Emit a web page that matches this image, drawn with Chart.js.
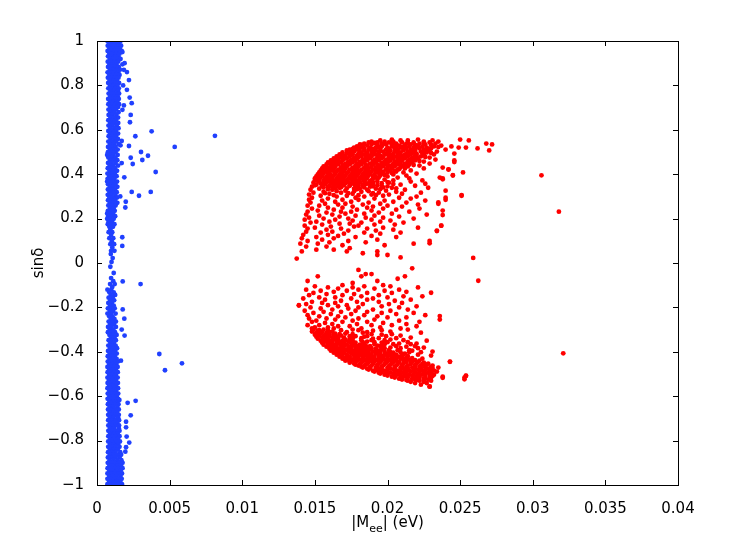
<!DOCTYPE html>
<html>
<head>
<meta charset="utf-8">
<script src="https://cdn.jsdelivr.net/npm/chart.js@4.4.0/dist/chart.umd.min.js"></script>
<style>
    html, body { margin: 0; padding: 0; background: #fff; }
    #wrap { width: 747px; height: 545px; }
</style>
</head>
<body>
<div id="wrap"><canvas id="grafico" width="747" height="545"></canvas></div>
<script>
// Ticks dos eixos
const xTicks = [0, 0.005, 0.01, 0.015, 0.02, 0.025, 0.03, 0.035, 0.04];
const xTickLabels = ['0', '0.005', '0.01', '0.015', '0.02', '0.025', '0.03', '0.035', '0.04'];
const yTicks = [-1, -0.8, -0.6, -0.4, -0.2, 0, 0.2, 0.4, 0.6, 0.8, 1];
const yTickLabels = ['\u22121', '\u22120.8', '\u22120.6', '\u22120.4', '\u22120.2', '0', '0.2', '0.4', '0.6', '0.8', '1'];

// Dados. |Mee| escrito em meV (dividido por 1000 abaixo).
// Cada linha: [sinδ, |Mee| ...]
const blueColumnRows = [
    [1.000, 0.72, 0.95, 1.18, 1.40, 1.62], [0.990, 0.84, 1.07, 1.30, 1.52],
    [0.979, 0.74, 0.98, 1.22, 1.45, 1.66], [0.967, 0.86, 1.10, 1.33, 1.56],
    [0.955, 0.73, 0.96, 1.20, 1.43, 1.70], [0.943, 0.85, 1.08, 1.31, 1.55],
    [0.931, 0.76, 0.99, 1.24, 1.47], [0.919, 0.88, 1.12, 1.36, 1.62],
    [0.907, 0.74, 0.97, 1.21, 1.45], [0.895, 0.86, 1.09, 1.33, 1.75],
    [0.883, 0.76, 1.00, 1.25, 1.50], [0.871, 0.88, 1.13, 1.38, 1.58],
    [0.859, 0.73, 0.97, 1.22, 1.46], [0.847, 0.85, 1.10, 1.34, 1.55],
    [0.835, 0.75, 1.00, 1.26, 1.48], [0.823, 0.88, 1.13, 1.37],
    [0.811, 0.77, 1.02, 1.25, 1.52], [0.799, 0.90, 1.15, 1.40],
    [0.787, 0.78, 1.03, 1.28, 1.50], [0.775, 0.92, 1.16, 1.45],
    [0.763, 0.80, 1.05, 1.30, 1.52], [0.751, 0.92, 1.18, 1.42],
    [0.739, 0.77, 1.02, 1.27, 1.50], [0.727, 0.90, 1.14, 1.40],
    [0.715, 0.78, 1.03, 1.29, 1.52], [0.703, 0.91, 1.17, 1.45],
    [0.691, 0.79, 1.04, 1.30], [0.679, 0.92, 1.18, 1.48],
    [0.667, 0.80, 1.05, 1.33], [0.655, 0.93, 1.20, 1.45],
    [0.643, 0.78, 1.04, 1.30], [0.631, 0.91, 1.17, 1.46],
    [0.619, 0.79, 1.05, 1.35], [0.607, 0.92, 1.20, 1.48],
    [0.595, 0.78, 1.03, 1.30], [0.583, 0.90, 1.16, 1.45],
    [0.571, 0.80, 1.06, 1.30], [0.559, 0.93, 1.19, 1.44],
    [0.547, 0.78, 1.04, 1.32], [0.535, 0.90, 1.17, 1.50],
    [0.523, 0.76, 1.02, 1.28], [0.511, 0.89, 1.14, 1.42],
    [0.499, 0.75, 1.00, 1.27], [0.487, 0.70, 0.88, 1.13, 1.42],
    [0.475, 0.78, 1.02, 1.26], [0.463, 0.90, 1.15, 1.40],
    [0.451, 0.76, 1.01, 1.28], [0.439, 0.88, 1.12, 1.45],
    [0.427, 0.74, 0.99, 1.24], [0.415, 0.86, 1.10, 1.38],
    [0.403, 0.72, 0.97, 1.22], [0.391, 0.85, 1.09, 1.35],
    [0.379, 0.73, 0.96, 1.20], [0.367, 0.70, 0.86, 1.10, 1.38],
    [0.355, 0.76, 0.99, 1.26], [0.343, 0.88, 1.12, 1.40],
    [0.331, 0.75, 0.98, 1.23], [0.319, 0.87, 1.11, 1.36],
    [0.307, 0.74, 0.97, 1.26], [0.295, 0.86, 1.10, 1.38],
    [0.283, 0.76, 1.00, 1.24], [0.271, 0.88, 1.12, 1.40],
    [0.259, 0.78, 1.02, 1.28], [0.247, 0.90, 1.14],
    [0.235, 0.75, 0.99, 1.22], [0.223, 0.70, 0.87, 1.10],
    [0.211, 0.77, 1.01, 1.25], [0.199, 0.70, 0.90, 1.15],
    [0.187, 0.80, 1.03], [0.175, 0.74, 0.95, 1.20],
    [0.163, 0.85, 1.10], [0.151, 0.92],
    [0.139, 0.80, 1.05], [0.127, 0.97],
    [0.112, 0.85, 1.12], [0.098, 1.02],
    [0.085, 0.92, 1.18], [0.070, 1.05],
    [0.055, 0.97, 1.20], [0.040, 0.95],
    [0.022, 1.08], [0.005, 1.00],
    [-0.017, 0.92], [-0.045, 1.15],
    [-0.068, 0.97], [-0.082, 1.12],
    [-0.095, 0.90, 1.22], [-0.108, 1.05],
    [-0.120, 0.72, 0.98], [-0.132, 0.85, 1.15],
    [-0.144, 0.95, 1.25], [-0.156, 0.80, 1.08],
    [-0.168, 0.92, 1.18], [-0.180, 0.78, 1.02],
    [-0.192, 0.90, 1.15], [-0.204, 0.75, 0.98, 1.22],
    [-0.216, 0.88, 1.10], [-0.228, 0.72, 0.96, 1.28],
    [-0.240, 0.84, 1.07], [-0.252, 0.95, 1.20],
    [-0.264, 0.80, 1.03, 1.30], [-0.276, 0.91, 1.16],
    [-0.288, 0.76, 1.00, 1.30], [-0.300, 0.88, 1.12],
    [-0.312, 0.75, 0.98, 1.24], [-0.324, 0.86, 1.10, 1.35],
    [-0.336, 0.97, 1.20], [-0.348, 0.80, 1.04, 1.30],
    [-0.360, 0.92, 1.16], [-0.372, 0.78, 1.02, 1.28],
    [-0.384, 0.90, 1.14, 1.38], [-0.396, 0.76, 1.00, 1.25],
    [-0.408, 0.88, 1.12, 1.36], [-0.420, 0.74, 0.98, 1.22],
    [-0.432, 0.86, 1.10, 1.35], [-0.444, 0.74, 0.97, 1.21, 1.44],
    [-0.456, 0.85, 1.09, 1.32], [-0.468, 0.72, 0.96, 1.20, 1.42],
    [-0.480, 0.84, 1.08, 1.30], [-0.492, 0.73, 0.95, 1.19, 1.43],
    [-0.504, 0.84, 1.07, 1.30], [-0.516, 0.72, 0.95, 1.18, 1.42],
    [-0.528, 0.83, 1.06, 1.29], [-0.540, 0.73, 0.95, 1.18, 1.44],
    [-0.552, 0.84, 1.07, 1.31], [-0.564, 0.72, 0.96, 1.20, 1.45],
    [-0.576, 0.85, 1.08, 1.32], [-0.588, 0.74, 0.97, 1.21, 1.46],
    [-0.600, 0.86, 1.10, 1.35], [-0.612, 0.73, 0.98, 1.22, 1.45],
    [-0.624, 0.86, 1.11, 1.36], [-0.636, 0.75, 0.99, 1.24, 1.48],
    [-0.648, 0.87, 1.12, 1.40], [-0.660, 0.76, 1.00, 1.25, 1.50],
    [-0.672, 0.88, 1.13, 1.38], [-0.684, 0.77, 1.01, 1.26, 1.50],
    [-0.696, 0.89, 1.14, 1.45], [-0.708, 0.77, 1.02, 1.27, 1.52],
    [-0.720, 0.90, 1.15, 1.40], [-0.732, 0.78, 1.03, 1.29, 1.52],
    [-0.744, 0.90, 1.16, 1.50], [-0.756, 0.78, 1.03, 1.29, 1.55],
    [-0.768, 0.91, 1.17, 1.42], [-0.780, 0.78, 1.04, 1.30, 1.55],
    [-0.792, 0.90, 1.16, 1.45], [-0.804, 0.77, 1.03, 1.29, 1.58],
    [-0.816, 0.90, 1.16, 1.45], [-0.828, 0.77, 1.02, 1.28, 1.55],
    [-0.840, 0.89, 1.15, 1.42], [-0.852, 0.76, 1.01, 1.27, 1.60],
    [-0.864, 0.88, 1.14, 1.40, 1.66], [-0.876, 0.75, 1.00, 1.26, 1.55],
    [-0.888, 0.87, 1.13, 1.40, 1.68], [-0.900, 0.74, 0.99, 1.25, 1.52, 1.76],
    [-0.912, 0.86, 1.12, 1.38, 1.65], [-0.924, 0.73, 0.98, 1.24, 1.50, 1.76],
    [-0.936, 0.85, 1.11, 1.37, 1.63], [-0.948, 0.72, 0.97, 1.23, 1.49, 1.72],
    [-0.960, 0.84, 1.10, 1.36, 1.62], [-0.972, 0.72, 0.97, 1.22, 1.48, 1.70],
    [-0.984, 0.84, 1.10, 1.35, 1.60], [-0.996, 0.72, 0.96, 1.21, 1.47, 1.72]
];

// Pontos azuis dispersos: [|Mee| meV, sinδ]
const blueScatter = [
    [2.2, 0.824], [2.06, 0.86], [2.06, 0.78], [2.25, 0.745], [2.39, 0.72], [2.32, 0.667], [2.27, 0.634],
    [1.9, 0.9], [1.85, 0.87], [1.75, 0.95], [1.8, 0.8], [1.75, 0.69], [1.85, 0.71], [1.7, 0.55], [1.62, 0.53],
    [2.64, 0.571], [3.76, 0.593], [8.12, 0.573], [5.35, 0.523], [3.03, 0.5], [3.51, 0.483], [3.12, 0.464],
    [2.46, 0.446], [4.04, 0.41], [1.88, 0.386], [2.39, 0.32], [3.7, 0.32], [2.89, 0.303], [2.32, 0.474],
    [2.2, 0.527], [1.98, 0.276], [1.95, 0.25], [1.74, 0.116], [1.74, 0.077], [1.7, 0.45], [1.6, 0.3],
    [3.0, -0.095], [1.77, -0.083], [4.29, -0.41], [4.68, -0.483], [5.85, -0.452], [1.77, -0.209],
    [1.88, -0.251], [1.9, -0.327], [2.66, -0.621], [2.11, -0.63], [2.32, -0.686], [2.0, -0.715],
    [2.0, -0.74], [2.04, -0.782], [2.22, -0.809], [2.0, -0.83], [1.95, -0.85], [1.54, -0.617],
    [1.7, -0.3], [1.65, -0.44]
];

// Parte densa do arco vermelho de cima
const redUpperDense = [
    [0.556, 20.3, 22.1, 25.0],
    [0.552, 19.5, 20.9, 21.4, 23.1, 25.6],
    [0.547, 18.9, 19.8, 20.4, 22.5, 23.5],
    [0.543, 18.7, 19.3, 20.1, 21.0, 21.8, 22.9],
    [0.538, 18.4, 19.6, 20.6, 21.3, 22.2, 23.3, 26.8],
    [0.534, 18.1, 18.9, 19.9, 20.3, 21.6, 22.6, 27.2],
    [0.529, 18.6, 19.3, 20.8, 21.2, 22.0, 23.7],
    [0.525, 17.9, 18.3, 19.6, 20.3, 21.5, 22.4, 23.2, 24.4],
    [0.520, 17.7, 18.8, 19.2, 20.0, 20.9, 21.8, 22.7, 24.9, 25.4],
    [0.516, 18.1, 19.5, 20.5, 21.3, 22.2, 23.0, 26.2],
    [0.511, 17.4, 17.9, 18.7, 19.9, 20.7, 21.6, 22.5, 24.0],
    [0.507, 17.2, 18.4, 19.2, 20.2, 21.1, 21.9, 22.9, 27.0],
    [0.502, 17.7, 18.1, 19.0, 19.7, 20.5, 21.4, 22.3, 23.4],
    [0.498, 16.9, 17.5, 18.6, 19.4, 20.1, 20.9, 21.8, 22.7],
    [0.493, 17.2, 18.0, 18.9, 19.8, 20.4, 21.3, 22.0, 24.6],
    [0.489, 16.7, 17.6, 18.4, 19.1, 19.9, 20.8, 21.6, 22.5, 23.2],
    [0.484, 17.0, 17.9, 18.7, 19.5, 20.3, 21.0, 21.9],
    [0.480, 16.5, 17.4, 18.2, 18.9, 19.7, 20.6, 21.4, 22.3],
    [0.475, 16.8, 17.7, 18.5, 19.3, 20.1, 20.8, 21.7, 22.9],
    [0.471, 16.3, 17.2, 17.9, 18.8, 19.6, 20.4, 21.2, 22.1],
    [0.466, 16.6, 17.5, 18.3, 19.1, 19.9, 20.7, 21.5, 23.3],
    [0.462, 16.1, 16.9, 17.8, 18.6, 19.4, 20.2, 21.0, 21.9, 24.6],
    [0.457, 16.4, 17.3, 18.1, 19.0, 19.8, 20.5, 21.4, 22.5],
    [0.453, 15.9, 16.8, 17.6, 18.4, 19.2, 20.0, 20.9, 21.7],
    [0.448, 16.2, 17.1, 17.9, 18.8, 19.6, 20.4, 21.2, 22.9],
    [0.444, 15.8, 16.6, 17.4, 18.2, 19.0, 19.8, 20.7, 21.5],
    [0.439, 16.1, 16.9, 17.8, 18.6, 19.4, 20.2, 21.0, 22.2],
    [0.435, 15.6, 16.4, 17.2, 18.0, 18.9, 19.7, 20.5, 21.4],
    [0.430, 16.0, 16.8, 17.6, 18.4, 19.2, 20.0, 20.9, 23.8],
    [0.426, 15.5, 16.3, 17.1, 17.9, 18.7, 19.5, 20.3, 21.2, 22.5],
    [0.421, 15.8, 16.6, 17.4, 18.2, 19.0, 19.9, 20.7, 24.2],
    [0.417, 15.4, 16.1, 16.9, 17.7, 18.5, 19.3, 20.2, 21.6],
    [0.412, 15.7, 16.5, 17.3, 18.1, 18.9, 19.7, 20.6],
    [0.408, 15.3, 16.0, 16.8, 17.6, 18.4, 19.2, 20.0, 21.1, 25.2],
    [0.403, 15.6, 16.4, 17.2, 18.0, 18.8, 19.6, 22.0],
    [0.399, 15.2, 16.0, 16.7, 17.5, 18.3, 19.1, 20.4],
    [0.394, 15.5, 16.3, 17.1, 17.9, 18.7, 19.5, 21.3, 24.5],
    [0.390, 15.1, 15.8, 16.6, 17.4, 18.2, 19.0, 20.0],
    [0.385, 15.4, 16.2, 17.0, 17.8, 18.6, 19.4, 20.7, 23.6],
    [0.381, 15.0, 15.7, 16.5, 17.3, 18.1, 19.0, 21.5, 23.8],
    [0.376, 15.3, 16.1, 16.9, 17.7, 18.5, 19.8],
    [0.372, 15.0, 15.6, 16.4, 17.2, 18.0, 18.9, 20.4, 22.4],
    [0.367, 15.3, 16.0, 16.8, 17.6, 18.4, 19.3, 21.6]
];

// Pontos entre as linhas da parte densa de cima
const redUpperFill = [
    [0.5405, 19.1, 20.3, 21.4, 22.5],
    [0.5315, 18.2, 19.6, 20.6, 21.9, 23.0],
    [0.5225, 18.1, 19.4, 20.6, 21.0, 22.1, 23.5],
    [0.5135, 17.6, 18.4, 19.0, 20.1, 21.1, 21.9, 22.8],
    [0.5045, 17.5, 18.9, 19.5, 20.7, 21.6, 22.6],
    [0.4955, 17.2, 18.2, 19.1, 20.0, 20.7, 21.5, 22.4, 23.0],
    [0.4865, 16.8, 17.4, 18.5, 19.3, 20.1, 21.2, 22.0],
    [0.4775, 16.6, 17.1, 18.0, 18.8, 19.5, 20.4, 21.0, 22.0, 22.6],
    [0.4685, 16.4, 17.0, 17.7, 18.5, 19.4, 20.2, 20.9, 21.8],
    [0.4595, 16.2, 16.6, 17.5, 18.3, 19.2, 20.1, 20.8, 21.6, 22.2],
    [0.4505, 16.0, 16.5, 17.3, 18.1, 19.0, 19.6, 20.6, 21.4],
    [0.4415, 16.3, 17.1, 17.9, 18.5, 19.3, 20.0, 20.9, 21.8],
    [0.4325, 15.8, 16.2, 17.0, 17.8, 18.6, 19.5, 20.3, 21.2],
    [0.4235, 15.7, 16.0, 16.8, 17.6, 18.5, 19.2, 20.0, 20.8],
    [0.4145, 15.6, 16.3, 17.0, 17.9, 18.7, 19.5, 20.5],
    [0.4055, 15.5, 15.9, 16.9, 17.8, 18.6, 19.4, 20.3],
    [0.3965, 15.3, 16.1, 16.9, 17.7, 18.5, 19.8],
    [0.3875, 15.2, 16.0, 16.8, 17.6, 18.4, 19.2],
    [0.3785, 15.2, 15.9, 16.7, 17.5, 18.3, 19.3],
    [0.3695, 15.2, 16.2, 17.0, 17.9, 18.8],
    [0.358, 15.4, 16.4, 17.5, 18.6],
    [0.350, 15.0, 16.0, 17.0, 18.0],
    [0.341, 15.6, 16.8, 17.8]
];

// Transição entre a parte densa e a espalhada (arco de cima)
const redUpperMid = [
    [0.3645, 15.8, 16.6, 17.3, 18.1, 19.0, 20.0],
    [0.3595, 16.2, 17.1, 18.0, 18.8, 19.6],
    [0.3555, 15.6, 16.6, 17.7, 18.5, 20.4],
    [0.3505, 16.8, 17.4, 18.3, 19.3],
    [0.3455, 15.5, 16.6, 17.8, 19.0, 20.0],
    [0.3405, 16.2, 18.4, 19.7],
    [0.3365, 16.4, 17.2, 18.1, 20.6],
    [0.3325, 15.9, 17.9, 19.5],
    [0.3235, 16.5, 17.7, 18.7],
    [0.3145, 15.7, 17.3, 19.0],
    [0.3055, 16.3, 18.0, 19.2]
];

// Parte espalhada do arco de cima
const redUpperSparse = [
    [0.362, 14.9, 17.9, 20.1], [0.357, 15.7, 16.9, 19.0, 22.6], [0.353, 15.1, 18.3, 20.9],
    [0.348, 16.3, 17.4, 19.6, 21.9], [0.344, 14.8, 15.9, 18.8], [0.339, 16.7, 20.3, 22.8],
    [0.335, 15.3, 17.7, 19.2], [0.330, 14.7, 16.2, 18.6, 21.2], [0.326, 17.1, 19.9, 24.0],
    [0.321, 15.6, 18.2, 20.6], [0.317, 14.9, 16.8, 19.4, 22.3], [0.312, 16.0, 17.6, 21.0],
    [0.308, 14.6, 18.9, 20.1], [0.303, 15.4, 17.2, 19.7, 25.1], [0.299, 16.5, 18.4, 22.0],
    [0.294, 14.8, 17.8, 20.8], [0.290, 15.9, 19.1, 21.6], [0.285, 14.6, 16.9, 18.0, 24.0],
    [0.281, 15.5, 19.8, 22.6], [0.276, 16.4, 17.5, 20.4], [0.272, 14.7, 18.7, 21.3],
    [0.267, 15.7, 17.1, 19.5, 23.5], [0.263, 16.6, 18.3, 22.1], [0.258, 14.5, 15.3, 20.0],
    [0.254, 17.6, 19.0, 21.0], [0.249, 15.9, 16.9, 18.6], [0.245, 14.8, 19.7, 22.2],
    [0.240, 16.3, 17.9, 20.6], [0.236, 15.2, 18.9, 23.8], [0.231, 14.5, 16.8, 17.5, 21.5],
    [0.227, 15.8, 19.4], [0.222, 17.1, 18.4, 20.3], [0.218, 14.4, 16.2, 22.7],
    [0.213, 15.3, 17.8, 19.1], [0.209, 16.7, 20.8], [0.204, 14.6, 18.5, 19.7],
    [0.200, 15.6, 17.3, 21.8], [0.195, 14.3, 16.4, 18.9], [0.191, 17.6, 20.2],
    [0.186, 15.1, 16.0, 19.5], [0.182, 14.7, 18.2, 21.1], [0.177, 16.7, 17.4],
    [0.173, 15.5, 19.1, 20.5], [0.168, 14.3, 18.0, 23.7], [0.164, 16.1, 17.7],
    [0.159, 15.0, 19.7, 22.1], [0.155, 14.5, 16.8, 18.6], [0.150, 15.8, 20.4],
    [0.146, 17.3, 19.2, 23.4], [0.141, 14.4, 16.2], [0.137, 15.4, 18.4, 20.9],
    [0.132, 17.0, 19.5], [0.127, 14.2, 15.9], [0.122, 16.6, 18.9],
    [0.117, 15.1, 17.8, 20.6], [0.111, 14.1, 16.3], [0.105, 15.5, 19.3],
    [0.099, 14.5, 17.3, 22.9], [0.093, 16.0, 18.5], [0.087, 14.0, 15.2, 21.8],
    [0.080, 16.9, 19.8], [0.074, 14.4, 15.8], [0.067, 17.4],
    [0.060, 15.1, 16.3], [0.052, 14.1, 17.2, 19.3], [0.044, 18.3],
    [0.036, 19.3, 20.0], [0.025, 20.9]
];

// Parte espalhada do arco de baixo
const redLowerSparse = [
    [-0.024, 21.7], [-0.031, 18.0], [-0.050, 18.5, 18.9], [-0.060, 15.2, 18.2, 21.2],
    [-0.071, 20.7], [-0.081, 14.5, 19.3], [-0.090, 17.6],
    [-0.100, 16.9, 19.7], [-0.105, 15.0, 18.4, 20.2], [-0.110, 15.9, 17.6, 22.1],
    [-0.115, 16.6, 19.1], [-0.120, 14.4, 18.0, 20.8], [-0.125, 15.4, 17.2, 19.8],
    [-0.130, 16.3, 21.3], [-0.135, 14.9, 18.6, 20.3], [-0.140, 15.8, 17.7],
    [-0.145, 14.6, 16.9, 19.4], [-0.150, 18.2, 21.1, 22.4], [-0.155, 15.3, 16.4, 20.0],
    [-0.160, 14.2, 17.5, 19.0], [-0.165, 15.7, 18.6, 21.6], [-0.170, 16.8, 20.5],
    [-0.175, 14.8, 17.9, 19.4], [-0.180, 15.5, 16.4, 21.0], [-0.185, 14.4, 18.3, 20.1],
    [-0.190, 13.9, 15.9, 17.2], [-0.195, 16.6, 19.6, 22.0], [-0.200, 14.7, 18.0, 20.8],
    [-0.205, 15.4, 17.3], [-0.210, 16.2, 19.0, 21.4], [-0.215, 14.3, 17.8, 20.2],
    [-0.220, 15.6, 16.8, 18.6], [-0.225, 14.9, 19.6, 21.8], [-0.230, 16.1, 17.5, 20.6],
    [-0.235, 14.5, 18.4, 22.6], [-0.240, 15.3, 16.6, 19.3], [-0.245, 17.1, 20.0, 21.3],
    [-0.250, 14.6, 15.8, 18.0], [-0.255, 16.4, 19.1, 23.6], [-0.260, 15.1, 17.6, 20.8],
    [-0.265, 14.8, 16.9, 18.6, 22.2], [-0.270, 15.7, 19.7], [-0.275, 16.2, 17.9, 21.3],
    [-0.280, 14.5, 15.3, 18.9, 20.3], [-0.285, 16.6, 17.4, 22.0], [-0.290, 15.0, 15.9, 19.5],
    [-0.295, 14.8, 16.3, 18.2, 20.9]
];

// Transição acima da faixa densa de baixo
const redLowerMid = [
    [-0.3025, 16.8, 18.0, 19.6], [-0.3115, 17.2, 18.6], [-0.3205, 17.6, 18.9, 20.3],
    [-0.3295, 17.8, 18.6, 19.9], [-0.3385, 18.2, 19.4, 20.6], [-0.3475, 18.9, 19.8, 21.1],
    [-0.3565, 19.1, 20.0, 21.4], [-0.3655, 19.8, 20.4, 21.6], [-0.3745, 19.5, 20.6, 21.9],
    [-0.3835, 19.6, 20.9, 22.1], [-0.3925, 20.7, 21.5], [-0.4015, 21.5, 22.3]
];

// Faixa densa do arco de baixo
const redLowerDense = [
    [-0.300, 14.9, 15.6, 17.6, 21.4], [-0.305, 15.2, 15.9, 19.0], [-0.309, 14.8, 15.5, 16.2, 20.2],
    [-0.314, 15.1, 15.8, 18.3, 22.3], [-0.318, 15.4, 16.4, 17.1], [-0.323, 15.0, 15.7, 16.3, 19.6],
    [-0.327, 15.3, 16.0, 16.8, 20.9], [-0.332, 15.1, 15.8, 16.5, 18.4], [-0.336, 15.5, 16.2, 17.0, 21.6],
    [-0.341, 15.2, 15.9, 16.6, 17.4, 19.0], [-0.345, 15.6, 16.3, 17.1, 20.2], [-0.350, 15.4, 16.1, 16.9, 17.6, 22.7],
    [-0.354, 15.7, 16.5, 17.3, 18.6], [-0.359, 15.5, 16.2, 17.0, 17.8, 19.6], [-0.363, 15.9, 16.6, 17.5, 20.8, 22.0],
    [-0.368, 15.6, 16.4, 17.2, 18.1], [-0.372, 16.0, 16.8, 17.6, 18.5, 19.3], [-0.377, 15.8, 16.5, 17.4, 18.3, 21.3],
    [-0.381, 16.1, 16.9, 17.8, 18.6, 20.2, 22.5], [-0.386, 16.0, 16.7, 17.5, 18.4, 19.2], [-0.390, 16.3, 17.1, 17.9, 18.8, 19.6],
    [-0.395, 16.1, 16.9, 17.7, 18.6, 19.4, 21.7], [-0.399, 16.4, 17.3, 18.1, 19.0, 19.8, 23.1], [-0.404, 16.3, 17.0, 17.9, 18.7, 19.5, 20.4],
    [-0.408, 16.6, 17.5, 18.3, 19.2, 20.0, 21.2], [-0.413, 16.5, 17.2, 18.1, 18.9, 19.8, 20.6, 22.1], [-0.417, 16.8, 17.7, 18.5, 19.4, 20.2, 21.0, 23.0],
    [-0.422, 16.7, 17.4, 18.3, 19.1, 20.0, 20.8], [-0.426, 17.0, 17.9, 18.7, 19.6, 20.4, 21.3], [-0.431, 16.9, 17.7, 18.6, 19.4, 20.3, 21.1, 22.4],
    [-0.435, 17.2, 18.1, 18.9, 19.8, 20.6, 21.5], [-0.440, 17.1, 17.9, 18.8, 19.6, 20.5, 21.3, 22.2], [-0.444, 17.4, 18.3, 19.1, 20.0, 20.8, 21.7, 24.3],
    [-0.449, 17.4, 18.2, 19.0, 19.9, 20.7, 21.6, 22.5], [-0.453, 17.7, 18.6, 19.4, 20.3, 21.1, 22.0, 22.8], [-0.458, 17.8, 18.5, 19.3, 20.2, 21.0, 21.9, 22.7],
    [-0.462, 18.0, 18.9, 19.7, 20.6, 21.4, 22.3, 23.1], [-0.467, 18.2, 18.8, 19.6, 20.5, 21.3, 22.2, 23.0], [-0.471, 18.3, 19.2, 20.0, 20.9, 21.7, 22.6, 23.5],
    [-0.476, 18.6, 19.4, 20.2, 21.1, 21.9, 22.8], [-0.480, 18.7, 19.5, 20.4, 21.2, 22.1, 22.9], [-0.485, 19.0, 19.8, 20.7, 21.5, 22.4, 23.2],
    [-0.489, 19.1, 19.9, 20.8, 21.6, 22.5, 23.4], [-0.494, 19.4, 20.2, 21.1, 21.9, 22.8], [-0.498, 19.5, 20.4, 21.2, 22.1, 22.9],
    [-0.503, 19.8, 20.7, 21.5, 22.4, 23.2], [-0.507, 20.0, 20.9, 21.7, 22.6, 25.4], [-0.512, 20.3, 21.1, 22.0, 22.9, 23.8],
    [-0.516, 20.5, 21.4, 22.2, 23.0, 25.3], [-0.521, 20.8, 21.7, 22.5], [-0.525, 21.0, 21.9, 22.8],
    [-0.530, 21.4, 22.2, 23.0], [-0.535, 21.6, 22.5], [-0.541, 21.9, 22.7],
    [-0.548, 22.3], [-0.556, 22.9]
];

// Pontos entre as linhas da faixa densa de baixo
const redLowerFill = [
    [-0.3025, 15.3], [-0.3115, 15.2, 16.0], [-0.3205, 15.3, 16.0, 16.7],
    [-0.3295, 15.6, 16.4, 17.4], [-0.3385, 15.8, 16.5, 17.6], [-0.3475, 15.9, 16.6, 17.4, 18.2],
    [-0.3565, 16.0, 16.8, 17.5, 18.3], [-0.3655, 16.1, 16.9, 17.7, 18.4, 19.1],
    [-0.3745, 16.3, 17.0, 17.9, 18.8, 19.6], [-0.3835, 16.4, 17.3, 18.1, 18.9, 19.8],
    [-0.3925, 16.6, 17.4, 18.3, 19.2, 20.1], [-0.4015, 16.7, 17.6, 18.5, 19.3, 20.2, 20.9],
    [-0.4105, 16.9, 17.8, 18.7, 19.5, 20.4, 21.1], [-0.4195, 17.2, 18.0, 18.9, 19.7, 20.6, 21.4],
    [-0.4285, 17.4, 18.3, 19.1, 20.0, 20.9, 21.7], [-0.4375, 17.6, 18.5, 19.3, 20.2, 21.1, 21.9],
    [-0.4465, 17.8, 18.7, 19.5, 20.4, 21.3, 22.1], [-0.4555, 18.1, 19.0, 19.8, 20.7, 21.6, 22.4],
    [-0.4645, 18.4, 19.3, 20.1, 21.0, 21.9, 22.6], [-0.4735, 18.8, 19.6, 20.5, 21.4, 22.3, 23.1],
    [-0.4825, 19.2, 20.0, 20.9, 21.8, 22.6], [-0.4915, 19.6, 20.5, 21.3, 22.2, 23.0],
    [-0.5005, 20.0, 20.9, 21.8, 22.6], [-0.5095, 20.5, 21.3, 22.2, 23.1],
    [-0.5185, 21.0, 21.8, 22.6], [-0.5275, 21.3, 22.0, 22.5]
];

// Pontos vermelhos isolados: [|Mee| meV, sinδ]
const redScatter = [
    [30.6, 0.395], [31.8, 0.231], [32.1, -0.407],
    [24.6, 0.455], [24.2, 0.422], [23.8, 0.377], [24.5, 0.396], [24.0, 0.294], [23.5, 0.273],
    [23.8, 0.216], [23.7, 0.168], [23.4, 0.144], [22.9, 0.089], [25.1, 0.306], [25.9, 0.023],
    [26.25, -0.08], [23.0, -0.134], [23.6, -0.239], [24.3, -0.445], [25.3, -0.524], [25.4, -0.509],
    [23.8, -0.517], [22.9, -0.557], [13.9, -0.192], [13.75, 0.02]
];

function linhasParaPontos(rows) {
    const pts = [];
    rows.forEach(row => {
        for (let i = 1; i < row.length; i++) pts.push({ x: row[i] / 1000, y: row[0] });
    });
    return pts;
}
function paresParaPontos(pairs) {
    return pairs.map(p => ({ x: p[0] / 1000, y: p[1] }));
}

const bluePoints = linhasParaPontos(blueColumnRows).concat(paresParaPontos(blueScatter));
const redPoints = [redUpperDense, redUpperFill, redUpperMid, redUpperSparse,
                   redLowerSparse, redLowerMid, redLowerDense, redLowerFill]
    .map(linhasParaPontos)
    .reduce((acc, pts) => acc.concat(pts), [])
    .concat(paresParaPontos(redScatter));

const fonte = 'DejaVu Sans';

// Caixa com ticks para dentro (estilo MATLAB) e títulos dos eixos
const molduraPlugin = {
    id: 'moldura',
    afterDraw(chart) {
        const { ctx, chartArea: a, scales: { x, y } } = chart;
        ctx.save();
        ctx.strokeStyle = '#000';
        ctx.lineWidth = 1;
        ctx.strokeRect(a.left + 0.5, a.top + 0.5, a.right - a.left, a.bottom - a.top);
        ctx.beginPath();
        xTicks.forEach(v => {
            const px = Math.round(x.getPixelForValue(v)) + 0.5;
            ctx.moveTo(px, a.bottom); ctx.lineTo(px, a.bottom - 5);
            ctx.moveTo(px, a.top); ctx.lineTo(px, a.top + 5);
        });
        yTicks.forEach(v => {
            const py = Math.round(y.getPixelForValue(v)) + 0.5;
            ctx.moveTo(a.left, py); ctx.lineTo(a.left + 5, py);
            ctx.moveTo(a.right, py); ctx.lineTo(a.right - 5, py);
        });
        ctx.stroke();

        ctx.fillStyle = '#000';
        // título do eixo y
        ctx.save();
        ctx.translate(39, (a.top + a.bottom) / 2);
        ctx.rotate(-Math.PI / 2);
        ctx.font = '15px "' + fonte + '"';
        ctx.textAlign = 'center';
        ctx.textBaseline = 'middle';
        ctx.fillText('sin\u03b4', 0, 0);
        ctx.restore();

        // título do eixo x com subscrito
        const t1 = '|M', t2 = 'ee', t3 = '| (eV)';
        ctx.textBaseline = 'alphabetic';
        ctx.textAlign = 'left';
        ctx.font = '15px "' + fonte + '"';
        const w1 = ctx.measureText(t1).width, w3 = ctx.measureText(t3).width;
        ctx.font = '11px "' + fonte + '"';
        const w2 = ctx.measureText(t2).width;
        let cx = (a.left + a.right) / 2 - (w1 + w2 + w3) / 2;
        const base = 527;
        ctx.font = '15px "' + fonte + '"';
        ctx.fillText(t1, cx, base);
        cx += w1;
        ctx.font = '11px "' + fonte + '"';
        ctx.fillText(t2, cx, base + 5);
        cx += w2;
        ctx.font = '15px "' + fonte + '"';
        ctx.fillText(t3, cx, base);
        ctx.restore();
    }
};

const ctx = document.getElementById('grafico').getContext('2d');
new Chart(ctx, {
    type: 'scatter',
    data: {
        datasets: [{
            label: 'azul',
            data: bluePoints,
            backgroundColor: 'rgb(32,64,255)',
            borderWidth: 0,
            pointRadius: 2.4
        }, {
            label: 'vermelho',
            data: redPoints,
            backgroundColor: 'rgb(255,0,0)',
            borderWidth: 0,
            pointRadius: 2.4
        }]
    },
    options: {
        responsive: false,
        animation: false,
        layout: { padding: { left: 0, top: 41, right: 69, bottom: 0 } },
        plugins: { legend: { display: false }, tooltip: { enabled: false } },
        scales: {
            x: {
                type: 'linear',
                min: 0,
                max: 0.04,
                grid: { display: false },
                border: { display: false },
                afterBuildTicks: s => { s.ticks = xTicks.map(v => ({ value: v })); },
                afterFit: s => { s.height = 60; },
                ticks: {
                    callback: (v, i) => xTickLabels[i],
                    color: '#000',
                    font: { family: fonte, size: 15 },
                    padding: 7,
                    maxRotation: 0,
                    autoSkip: false
                }
            },
            y: {
                type: 'linear',
                min: -1,
                max: 1,
                grid: { display: false },
                border: { display: false },
                afterBuildTicks: s => { s.ticks = yTicks.map(v => ({ value: v })); },
                afterFit: s => { s.width = 97; },
                ticks: {
                    callback: (v, i) => yTickLabels[i],
                    color: '#000',
                    font: { family: fonte, size: 15 },
                    padding: 5,
                    autoSkip: false
                }
            }
        }
    },
    plugins: [molduraPlugin]
});
</script>
</body>
</html>
